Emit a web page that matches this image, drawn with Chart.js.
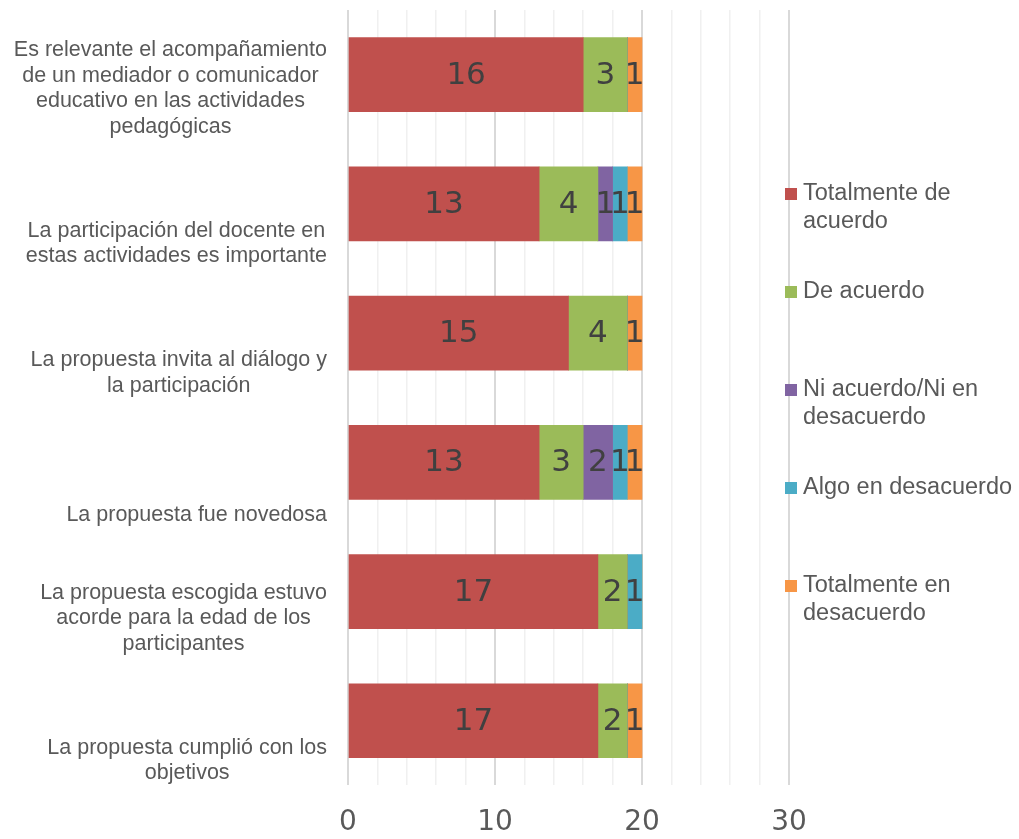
<!DOCTYPE html>
<html>
<head>
<meta charset="utf-8">
<script src="https://cdn.jsdelivr.net/npm/chart.js@4.4.1/dist/chart.umd.min.js"></script>
<style>
  html,body{margin:0;padding:0;background:#fff;}
  #wrap{width:1019px;height:839px;position:relative;}
</style>
</head>
<body>
<div id="wrap"><canvas id="chart"></canvas></div>
<script>
// categories, top to bottom (each one is a list of wrapped lines)
const categories = [
  ['Es relevante el acompañamiento','de un mediador o comunicador','educativo en las actividades','pedagógicas'],
  ['La participación del docente en','estas actividades es importante'],
  ['La propuesta invita al diálogo y','la participación'],
  ['La propuesta fue novedosa'],
  ['La propuesta escogida estuvo','acorde para la edad de los','participantes'],
  ['La propuesta cumplió con los','objetivos']
];
const seriesNames = [
  ['Totalmente de','acuerdo'],
  ['De acuerdo'],
  ['Ni acuerdo/Ni en','desacuerdo'],
  ['Algo en desacuerdo'],
  ['Totalmente en','desacuerdo']
];
const totalAcuerdo   = [16, 13, 15, 13, 17, 17];
const deAcuerdo      = [3, 4, 4, 3, 2, 2];
const niNi           = [0, 1, 0, 2, 0, 0];
const algoDesacuerdo = [0, 1, 0, 1, 1, 0];
const totalDesac     = [1, 1, 1, 1, 0, 1];
const xTicks = [0, 10, 20, 30];

const colors = ['#C0504D','#9BBB59','#8064A2','#4BACC6','#F79646'];
const values = [totalAcuerdo, deAcuerdo, niNi, algoDesacuerdo, totalDesac];

const datasets = values.map((v,i)=>({
  label: seriesNames[i].join(' '),
  data: v,
  backgroundColor: colors[i],
  borderWidth: 0,
  barThickness: 74
}));

// values inside the bars
const valueLabels = {
  id:'valueLabels',
  afterDatasetsDraw(chart){
    const ctx = chart.ctx;
    ctx.save();
    ctx.font = '31px "DejaVu Sans"';
    ctx.fillStyle = '#404040';
    ctx.textAlign = 'center';
    ctx.textBaseline = 'middle';
    chart.data.datasets.forEach((ds,di)=>{
      chart.getDatasetMeta(di).data.forEach((bar,i)=>{
        const v = ds.data[i];
        if(!v) return;
        const c = bar.getCenterPoint();
        ctx.fillText(String(v), c.x, c.y+1);
      });
    });
    ctx.restore();
  }
};

// category labels, bottom aligned in each band, lines centred on each other
const catLabels = {
  id:'catLabels',
  afterDraw(chart){
    const ctx = chart.ctx, y = chart.scales.y;
    const band = (chart.chartArea.bottom - chart.chartArea.top)/categories.length;
    ctx.save();
    ctx.font = '21.5px "Liberation Sans", Arial, sans-serif';
    ctx.fillStyle = '#595959';
    ctx.textAlign = 'center';
    ctx.textBaseline = 'middle';
    categories.forEach((lines,i)=>{
      const bottom = y.getPixelForValue(i) + band/2;
      const w = Math.max(...lines.map(l=>ctx.measureText(l).width));
      const cx = 327 - w/2;
      lines.forEach((l,k)=>{
        ctx.fillText(l, cx, bottom - 12 - (lines.length-1-k)*25.7);
      });
    });
    ctx.restore();
  }
};

// legend on the right with wrapped names
const sideLegend = {
  id:'sideLegend',
  afterDraw(chart){
    const ctx = chart.ctx;
    ctx.save();
    ctx.font = '23.5px "Liberation Sans", Arial, sans-serif';
    ctx.textBaseline = 'middle';
    ctx.textAlign = 'left';
    seriesNames.forEach((lines,i)=>{
      const y0 = 194 + i*98;
      ctx.fillStyle = colors[i];
      ctx.fillRect(785, y0-6, 12, 12);
      ctx.fillStyle = '#595959';
      lines.forEach((l,k)=>ctx.fillText(l, 803, y0 + k*27.5));
    });
    ctx.restore();
  }
};

new Chart(document.getElementById('chart'), {
  type:'bar',
  data:{ labels: categories.map(c=>c.join(' ')), datasets },
  options:{
    indexAxis:'y',
    responsive:true,
    maintainAspectRatio:false,
    animation:false,
    layout:{ padding:{ left:348, right:230, top:10, bottom:-22 } },
    plugins:{ legend:{display:false}, tooltip:{enabled:false} },
    scales:{
      x:{
        stacked:true, min:0, max:30,
        border:{display:false},
        grid:{
          drawTicks:false,
          color: c => (c.tick && c.tick.value % 10 === 0) ? '#D9D9D9' : '#F0F0F0',
          lineWidth: c => (c.tick && c.tick.value % 10 === 0) ? 2 : 1.5
        },
        ticks:{
          stepSize:2,
          padding:21,
          maxRotation:0,
          autoSkip:false,
          color:'#595959',
          font:{family:'"DejaVu Sans"', size:28},
          callback: v => xTicks.includes(v) ? String(v) : ''
        }
      },
      y:{ stacked:true, display:false }
    }
  },
  plugins:[valueLabels, catLabels, sideLegend]
});
</script>
</body>
</html>
